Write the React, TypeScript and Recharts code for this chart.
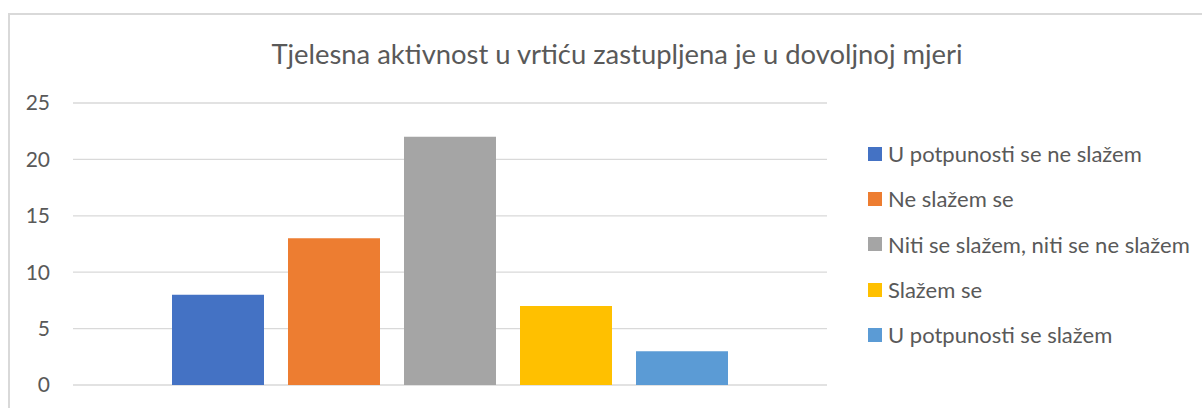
import React from 'react';
import { Bar, BarChart, CartesianGrid, XAxis, YAxis } from 'recharts';

// Odgovori na tvrdnju – jedna kategorija, pet serija (Excel stil)
const TITLE = 'Tjelesna aktivnost u vrtiću zastupljena je u dovoljnoj mjeri';
const seriesNames = [
  'U potpunosti se ne slažem',
  'Ne slažem se',
  'Niti se slažem, niti se ne slažem',
  'Slažem se',
  'U potpunosti se slažem',
];
const seriesValues = [8, 13, 22, 7, 3];
const seriesColors = ['#4472C4', '#ED7D31', '#A5A5A5', '#FFC000', '#5B9BD5'];
const yTicks = [0, 5, 10, 15, 20, 25];

const FONT = 'Lato, "Open Sans", sans-serif';
const TEXT = '#595959';

const row: Record<string, string | number> = { name: '' };
seriesNames.forEach((_, i) => {
  row[`s${i}`] = seriesValues[i];
});
const data = [row];

function LegendList() {
  return (
    <div
      style={{
        position: 'absolute',
        left: 868,
        top: 131,
        width: 334,
        fontFamily: FONT,
        fontSize: 22,
        color: TEXT,
        whiteSpace: 'nowrap',
      }}
    >
      {seriesNames.map((name, i) => (
        <div key={name} style={{ height: 45.3, display: 'flex', alignItems: 'center' }}>
          <span
            style={{
              width: 14,
              height: 14,
              background: seriesColors[i],
              display: 'inline-block',
              marginRight: 6,
              flex: 'none',
            }}
          />
          <span>{name}</span>
        </div>
      ))}
    </div>
  );
}

export default function App() {
  return (
    <div
      style={{
        position: 'fixed',
        left: 0,
        top: 0,
        width: 1202,
        height: 408,
        overflow: 'hidden',
        background: '#fff',
      }}
    >
      <div
        style={{
          position: 'absolute',
          left: 8,
          top: 13,
          width: 1400,
          height: 600,
          borderTop: '2px solid #d9d9d9',
          borderLeft: '2px solid #d9d9d9',
        }}
      />
      <div
        style={{
          position: 'absolute',
          top: 37,
          left: 0,
          width: 1234,
          textAlign: 'center',
          fontFamily: FONT,
          fontSize: 27.4,
          color: TEXT,
          lineHeight: '34px',
          whiteSpace: 'nowrap',
        }}
      >
        {TITLE}
      </div>
      <div style={{ position: 'absolute', left: 0, top: 0 }}>
        <BarChart
          width={1202}
          height={408}
          data={data}
          margin={{ top: 103, right: 375, bottom: 23, left: 0 }}
          barGap={24}
        >
          <CartesianGrid horizontal vertical={false} stroke="#d9d9d9" strokeWidth={1.3} />
          <XAxis dataKey="name" hide />
          <YAxis
            width={73}
            domain={[0, 25]}
            ticks={yTicks}
            interval={0}
            axisLine={false}
            tickLine={false}
            tickSize={0}
            tickMargin={23}
            tick={{ fontFamily: FONT, fontSize: 21, fill: TEXT }}
          />
          {seriesNames.map((name, i) => (
            <Bar
              key={name}
              dataKey={`s${i}`}
              name={name}
              fill={seriesColors[i]}
              barSize={92}
              isAnimationActive={false}
            />
          ))}
        </BarChart>
      </div>
      <LegendList />
    </div>
  );
}
